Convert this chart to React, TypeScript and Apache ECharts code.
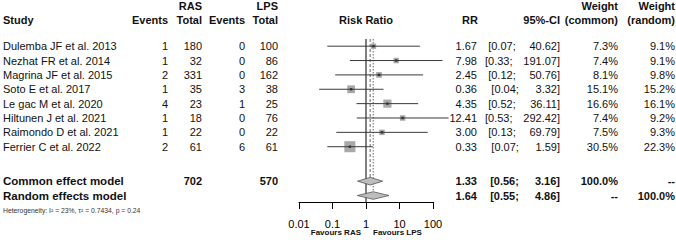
import React, { useEffect, useRef } from "react";
import * as echarts from "echarts";

const studies = [
  "Dulemba JF et al. 2013",
  "Nezhat FR et al. 2014",
  "Magrina JF et al. 2015",
  "Soto E et al. 2017",
  "Le gac M et al. 2020",
  "Hiltunen J et al. 2021",
  "Raimondo D et al. 2021",
  "Ferrier C et al. 2022",
];
const rasEvents = [1, 1, 2, 1, 4, 1, 1, 2];
const rasTotal = [180, 32, 331, 35, 23, 18, 22, 61];
const lpsEvents = [0, 0, 0, 3, 1, 0, 0, 6];
const lpsTotal = [100, 86, 162, 38, 25, 76, 22, 61];
const rr = [1.67, 7.98, 2.45, 0.36, 4.35, 12.41, 3.0, 0.33];
const ciLower = [0.07, 0.33, 0.12, 0.04, 0.52, 0.53, 0.13, 0.07];
const ciUpper = [40.62, 191.07, 50.76, 3.32, 36.11, 292.42, 69.79, 1.59];
const weightCommon = [7.3, 7.4, 8.1, 15.1, 16.6, 7.4, 7.5, 30.5];
const weightRandom = [9.1, 9.1, 9.8, 15.2, 16.1, 9.2, 9.3, 22.3];

const summaryLabels = ["Common effect model", "Random effects model"];
const summaryRR = [1.33, 1.64];
const summaryLower = [0.56, 0.55];
const summaryUpper = [3.16, 4.86];
const summaryWeightCommon = ["100.0%", "--"];
const summaryWeightRandom = ["--", "100.0%"];
const totalRAS = 702;
const totalLPS = 570;

const axisTicks = [0.01, 0.1, 1, 10, 100];
const nullEffect = 1;
const heterogeneityText = "Heterogeneity: I\u00b2 = 23%, \u03c4\u00b2 = 0.7434, p = 0.24";
const favoursLeft = "Favours RAS";
const favoursRight = "Favours LPS";

const FONT = '"Liberation Sans", Arial, Helvetica, sans-serif';

// layout rows (row index in the plot's y scale)
const ROW_SUMMARY = [9.4, 10.4];
const ROW_HEADER1 = -2.78;
const ROW_HEADER2 = -1.82;
const ROW_HET = 11.42;
const ROW_FAV = 13.0;
const Y_MIN = -0.5;
const Y_MAX = 10.85;

export default function App() {
  const ref = useRef<HTMLDivElement>(null);
  useEffect(() => {
    if (!ref.current) return;
    const chart = echarts.init(ref.current, undefined, { renderer: "svg" });

    const studyData = studies.map((_, i) => [rr[i], ciLower[i], ciUpper[i], i, weightCommon[i]]);
    const summaryData = summaryRR.map((v, i) => [v, summaryLower[i], summaryUpper[i], ROW_SUMMARY[i]]);
    const DIAMOND_HALF = 3.8;

    const refLineData = [
      [nullEffect, Y_MAX, 0],
      [summaryRR[0], ROW_SUMMARY[0], 1],
      [summaryRR[1], ROW_SUMMARY[1], 2],
    ];

    chart.setOption({
      animation: false,
      grid: { left: 299, width: 134, top: 39, height: 163 },
      xAxis: {
        type: "log",
        logBase: 10,
        min: axisTicks[0],
        max: axisTicks[axisTicks.length - 1],
        axisLine: { show: true, onZero: false, lineStyle: { color: "#000", width: 1 } },
        axisTick: { show: true, length: 7, lineStyle: { color: "#000" } },
        axisLabel: {
          fontSize: 11,
          color: "#000",
          fontFamily: FONT,
          margin: 16,
          formatter: (v: number) => String(Number(v.toPrecision(2))),
        },
        splitLine: { show: false },
      },
      yAxis: {
        type: "value",
        inverse: true,
        min: Y_MIN,
        max: Y_MAX,
        show: false,
        axisLine: { onZero: false },
      },
      series: [
        {
          type: "custom",
          name: "reference lines",
          clip: false,
          silent: true,
          data: refLineData,
          encode: { x: 0, y: 1 },
          renderItem: (params: any, api: any) => {
            const x = api.value(0);
            const row = api.value(1);
            const kind = api.value(2);
            const top = api.coord([x, Y_MIN]);
            const bot = api.coord([x, row]);
            if (kind === 0) {
              return {
                type: "line",
                shape: { x1: top[0], y1: top[1], x2: bot[0], y2: bot[1] },
                style: { stroke: "#000", lineWidth: 1 },
              };
            }
            return {
              type: "line",
              shape: { x1: top[0], y1: top[1], x2: bot[0], y2: bot[1] - DIAMOND_HALF },
              style: {
                stroke: "#666",
                lineWidth: 1,
                lineDash: kind === 1 ? [3, 2] : [1.5, 1.5],
              },
            };
          },
        },
        {
          type: "custom",
          name: "studies",
          clip: false,
          silent: true,
          data: studyData,
          encode: { x: [0, 1, 2], y: 3 },
          renderItem: (params: any, api: any) => {
            const est = api.value(0);
            const lo = api.value(1);
            const hi = api.value(2);
            const row = api.value(3);
            const w = api.value(4);
            const c = api.coord([est, row]);
            const l = api.coord([lo, row]);
            const h = api.coord([hi, row]);
            const side = 2.0 * Math.sqrt(w);
            return {
              type: "group",
              children: [
                {
                  type: "rect",
                  shape: { x: c[0] - side / 2, y: c[1] - side / 2, width: side, height: side },
                  style: { fill: "#a8a8a8" },
                },
                {
                  type: "line",
                  shape: { x1: l[0], y1: c[1], x2: h[0], y2: c[1] },
                  style: { stroke: "#3a3a3a", lineWidth: 1 },
                },
                {
                  type: "rect",
                  shape: { x: c[0] - 1.2, y: c[1] - 1.2, width: 2.4, height: 2.4 },
                  style: { fill: "#333" },
                },
              ],
            };
          },
        },
        {
          type: "custom",
          name: "summary",
          clip: false,
          silent: true,
          data: summaryData,
          encode: { x: [0, 1, 2], y: 3 },
          renderItem: (params: any, api: any) => {
            const est = api.value(0);
            const lo = api.value(1);
            const hi = api.value(2);
            const row = api.value(3);
            const c = api.coord([est, row]);
            const l = api.coord([lo, row]);
            const h = api.coord([hi, row]);
            return {
              type: "polygon",
              shape: {
                points: [
                  [l[0], c[1]],
                  [c[0], c[1] - DIAMOND_HALF],
                  [h[0], c[1]],
                  [c[0], c[1] + DIAMOND_HALF],
                ],
              },
              style: { fill: "#bdbdbd", stroke: "#555", lineWidth: 0.8 },
            };
          },
        },
      ],
    });

    const yOf = (row: number) => chart.convertToPixel({ gridIndex: 0 }, [1, row])[1];
    const xOf = (v: number) => chart.convertToPixel({ gridIndex: 0 }, [v, 0])[0];

    const texts: any[] = [];
    const t = (
      text: string,
      x: number,
      y: number,
      align: string,
      opts: { bold?: boolean; size?: number; color?: string } = {}
    ) => {
      texts.push({
        type: "text",
        x,
        y,
        silent: true,
        style: {
          text,
          align,
          verticalAlign: "middle",
          fontFamily: FONT,
          fontSize: opts.size ?? 11,
          fontWeight: opts.bold ? "bold" : "normal",
          fill: opts.color ?? "#111",
        },
      });
    };

    // column anchors
    const COL_STUDY = 3;
    const COL_RAS_EV = 168;
    const COL_RAS_TOT = 202;
    const COL_LPS_EV = 245;
    const COL_LPS_TOT = 278;
    const COL_RR = 477;
    const COL_CI = 560;
    const COL_WC = 618;
    const COL_WR = 675;

    const h1 = yOf(ROW_HEADER1);
    const h2 = yOf(ROW_HEADER2);
    t("RAS", COL_RAS_TOT, h1, "right", { bold: true });
    t("LPS", COL_LPS_TOT, h1, "right", { bold: true });
    t("Weight", COL_WC, h1, "right", { bold: true });
    t("Weight", COL_WR, h1, "right", { bold: true });
    t("Study", COL_STUDY, h2, "left", { bold: true });
    t("Events", COL_RAS_EV, h2, "right", { bold: true });
    t("Total", COL_RAS_TOT, h2, "right", { bold: true });
    t("Events", COL_LPS_EV, h2, "right", { bold: true });
    t("Total", COL_LPS_TOT, h2, "right", { bold: true });
    t("Risk Ratio", xOf(nullEffect), h2, "center", { bold: true });
    t("RR", COL_RR + 1, h2, "right", { bold: true });
    t("95%-CI", COL_CI, h2, "right", { bold: true });
    t("(common)", COL_WC, h2, "right", { bold: true });
    t("(random)", COL_WR, h2, "right", { bold: true });

    const allUpper = ciUpper.concat(summaryUpper).map((v) => v.toFixed(2));
    const maxLen = Math.max(...allUpper.map((s) => s.length));
    const ci = (lo: number, hi: number, y: number, bold: boolean) => {
      const hs = hi.toFixed(2);
      const pads = maxLen - hs.length;
      t(hs + "]", COL_CI, y, "right", { bold });
      t("[" + lo.toFixed(2) + ";", 512.5 + 3.2 * pads, y, "right", { bold });
    };

    studies.forEach((s, i) => {
      const y = yOf(i);
      t(s, COL_STUDY, y, "left");
      t(String(rasEvents[i]), COL_RAS_EV, y, "right");
      t(String(rasTotal[i]), COL_RAS_TOT, y, "right");
      t(String(lpsEvents[i]), COL_LPS_EV, y, "right");
      t(String(lpsTotal[i]), COL_LPS_TOT, y, "right");
      t(rr[i].toFixed(2), COL_RR, y, "right");
      ci(ciLower[i], ciUpper[i], y, false);
      t(weightCommon[i].toFixed(1) + "%", COL_WC, y, "right");
      t(weightRandom[i].toFixed(1) + "%", COL_WR, y, "right");
    });

    summaryLabels.forEach((s, i) => {
      const y = yOf(ROW_SUMMARY[i]);
      t(s, COL_STUDY, y, "left", { bold: true, size: 11.5 });
      if (i === 0) {
        t(String(totalRAS), COL_RAS_TOT, y, "right", { bold: true });
        t(String(totalLPS), COL_LPS_TOT, y, "right", { bold: true });
      }
      t(summaryRR[i].toFixed(2), COL_RR, y, "right", { bold: true });
      ci(summaryLower[i], summaryUpper[i], y, true);
      t(summaryWeightCommon[i], COL_WC, y, "right", { bold: true });
      t(summaryWeightRandom[i], COL_WR, y, "right", { bold: true });
    });

    t(heterogeneityText, COL_STUDY, yOf(ROW_HET), "left", { size: 6.8, color: "#333" });
    const yf = yOf(ROW_FAV);
    t(favoursLeft, xOf(nullEffect) - 5, yf, "right", { bold: true, size: 8 });
    t(favoursRight, xOf(nullEffect) + 7, yf, "left", { bold: true, size: 8 });

    chart.setOption({ graphic: { elements: texts } });

    return () => chart.dispose();
  }, []);

  return (
    <div
      ref={ref}
      style={{ position: "absolute", left: 0, top: 0, width: 676, height: 240, background: "#fff" }}
    />
  );
}
